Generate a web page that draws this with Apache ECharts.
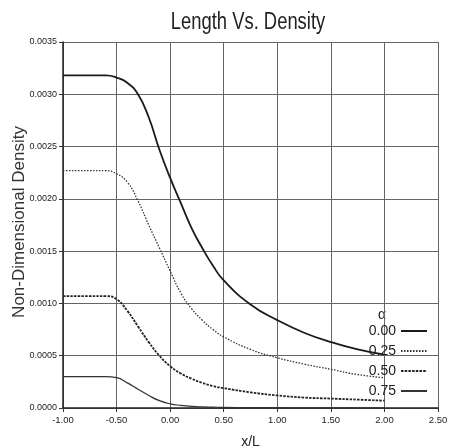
<!DOCTYPE html>
<html>
<head>
<meta charset="utf-8">
<script src="https://cdn.jsdelivr.net/npm/echarts@6/dist/echarts.min.js"></script>
<style>
  html, body { margin: 0; padding: 0; background: #fff; }
  #main { width: 451px; height: 446px; }
</style>
</head>
<body>
<div id="main"></div>
<script>
var chart = echarts.init(document.getElementById('main'), null, { renderer: 'canvas' });

// x/L positions shared by all curves
var xs = [-1.0, -0.75, -0.6, -0.5, -0.4, -0.3, -0.2, -0.1, 0.0, 0.1, 0.2, 0.3, 0.4, 0.5, 0.75, 1.0, 1.25, 1.5, 1.75, 2.0];

// non-dimensional density for each alpha
var alpha000 = [0.00318, 0.00318, 0.00318, 0.00316, 0.00311, 0.00300, 0.00278, 0.00247, 0.00220, 0.00196, 0.00172, 0.00153, 0.00136, 0.00122, 0.00099, 0.00084, 0.00072, 0.00063, 0.00056, 0.00051];
var alpha025 = [0.00227, 0.00227, 0.00227, 0.00224, 0.00216, 0.00198, 0.00175, 0.00153, 0.00131, 0.00110, 0.00095, 0.00084, 0.00075, 0.00068, 0.00056, 0.00048, 0.00042, 0.00037, 0.00032, 0.00029];
var alpha050 = [0.00107, 0.00107, 0.00107, 0.00104, 0.00093, 0.00078, 0.00063, 0.00050, 0.00040, 0.00033, 0.00028, 0.00024, 0.00021, 0.00019, 0.00015, 0.00012, 0.00010, 0.00009, 0.00008, 0.00007];
var alpha075 = [0.00030, 0.00030, 0.00030, 0.00029, 0.00024, 0.00018, 0.00012, 0.00007, 0.00004, 0.000025, 0.000015, 0.00001, 0.000008, 0.000006, 0.000004, 0.000003, 0.000002, 0.000002, 0.000002, 0.000002];

var names = ['0.00', '0.25', '0.50', '0.75'];

function pairs(ys) {
  return xs.map(function (x, i) { return [x, ys[i]]; });
}

var font = 'Liberation Sans, Arial, sans-serif';

var option = {
  animation: false,
  backgroundColor: '#fff',
  grid: { left: 63, right: 13, top: 42, bottom: 38, outerBoundsMode: 'none' },
  legend: {
    orient: 'vertical',
    right: 23,
    top: 324,
    padding: 0,
    align: 'right',
    itemWidth: 26,
    itemHeight: 14,
    itemGap: 6,
    data: names,
    itemStyle: { opacity: 0 },
    textStyle: { fontFamily: font, fontSize: 14, color: '#222' }
  },
  graphic: [
    {
      // chart title, narrowed to look like the condensed face of the original
      type: 'text',
      x: 248,
      y: 23,
      scaleX: 0.8,
      style: {
        text: 'Length Vs. Density', fontFamily: font, fontSize: 23,
        fill: '#222', align: 'center', verticalAlign: 'middle'
      }
    },
    {
      // y axis title
      type: 'text',
      x: 19,
      y: 222,
      rotation: Math.PI / 2,
      style: {
        text: 'Non-Dimensional Density', fontFamily: font, fontSize: 17,
        fill: '#333', align: 'center', verticalAlign: 'middle'
      }
    },
    {
      type: 'text',
      x: 382,
      y: 315,
      style: { text: 'α', fontFamily: font, fontSize: 14, fill: '#222', align: 'center', verticalAlign: 'middle' }
    }
  ],
  xAxis: {
    type: 'value',
    min: -1,
    max: 2.5,
    interval: 0.5,
    name: 'x/L',
    nameLocation: 'middle',
    nameGap: 27,
    nameTextStyle: { fontFamily: font, fontSize: 14, color: '#222' },
    axisLine: { onZero: false, lineStyle: { color: '#222', width: 1.5 } },
    axisTick: { show: true, length: 4, lineStyle: { color: '#333' } },
    axisLabel: {
      fontFamily: font, fontSize: 9.5, color: '#222', margin: 7,
      formatter: function (v) { return v.toFixed(2); }
    },
    splitLine: { show: true, lineStyle: { color: '#666', width: 1 } }
  },
  yAxis: {
    type: 'value',
    min: 0,
    max: 0.0035,
    interval: 0.0005,
    axisLine: { show: true, onZero: false, lineStyle: { color: '#222', width: 1.5 } },
    axisTick: { show: true, length: 4, lineStyle: { color: '#333' } },
    axisLabel: {
      fontFamily: font, fontSize: 9, color: '#222', margin: 6,
      formatter: function (v) { return v.toFixed(4); }
    },
    splitLine: { show: true, lineStyle: { color: '#666', width: 1 } }
  },
  series: [
    {
      name: names[0], type: 'line', data: pairs(alpha000),
      smooth: 0.5, symbol: 'none',
      lineStyle: { color: '#1a1a1a', width: 1.8, type: 'solid' },
      itemStyle: { color: '#1a1a1a' }
    },
    {
      name: names[1], type: 'line', data: pairs(alpha025),
      smooth: 0.5, symbol: 'none',
      lineStyle: { color: '#333', width: 1.3, type: [1.5, 1.5] },
      itemStyle: { color: '#333' }
    },
    {
      name: names[2], type: 'line', data: pairs(alpha050),
      smooth: 0.5, symbol: 'none',
      lineStyle: { color: '#222', width: 1.8, type: [2.5, 1.2] },
      itemStyle: { color: '#222' }
    },
    {
      name: names[3], type: 'line', data: pairs(alpha075),
      smooth: 0.5, symbol: 'none',
      lineStyle: { color: '#333', width: 1.2, type: 'solid' },
      itemStyle: { color: '#333' }
    }
  ]
};

chart.setOption(option);
</script>
</body>
</html>
